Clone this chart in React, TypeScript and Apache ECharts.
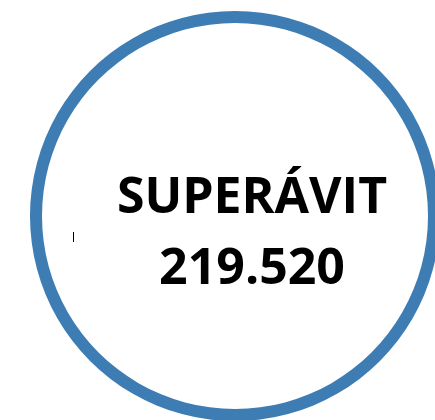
import React, { useEffect, useRef } from "react";
import * as echarts from "echarts";

const categories = ["SUPERÁVIT"];
const values = [219520];

function fmt(v: number): string {
  const s = String(Math.round(v));
  return s.replace(/\B(?=(\d{3})+(?!\d))/g, ".");
}

export default function App() {
  const ref = useRef<HTMLDivElement>(null);
  useEffect(() => {
    if (!ref.current) return;
    const chart = echarts.init(ref.current, null, { renderer: "svg" });
    chart.setOption({
      animation: false,
      backgroundColor: "#ffffff",
      graphic: [
        {
          type: "line",
          shape: { x1: 73.5, y1: 232, x2: 73.5, y2: 242 },
          style: { stroke: "#000", lineWidth: 1 },
        },
      ],
      series: [
        {
          type: "pie",
          center: [235, 216],
          radius: [193, 205],
          silent: true,
          itemStyle: { color: "#3d7db3" },
          label: {
            show: true,
            position: "center",
            offset: [17, 13],
            formatter: (p: any) => `${p.name}\n${fmt(p.value)}`,
            fontFamily: "Open Sans",
            fontWeight: "bold",
            fontSize: 50,
            lineHeight: 71,
            color: "#000",
          },
          labelLine: { show: false },
          data: categories.map((c, i) => ({ name: c, value: values[i] })),
        },
      ],
    });
    return () => chart.dispose();
  }, []);
  return (
    <div
      ref={ref}
      style={{ position: "absolute", left: 0, top: 0, width: 435, height: 420 }}
    />
  );
}
